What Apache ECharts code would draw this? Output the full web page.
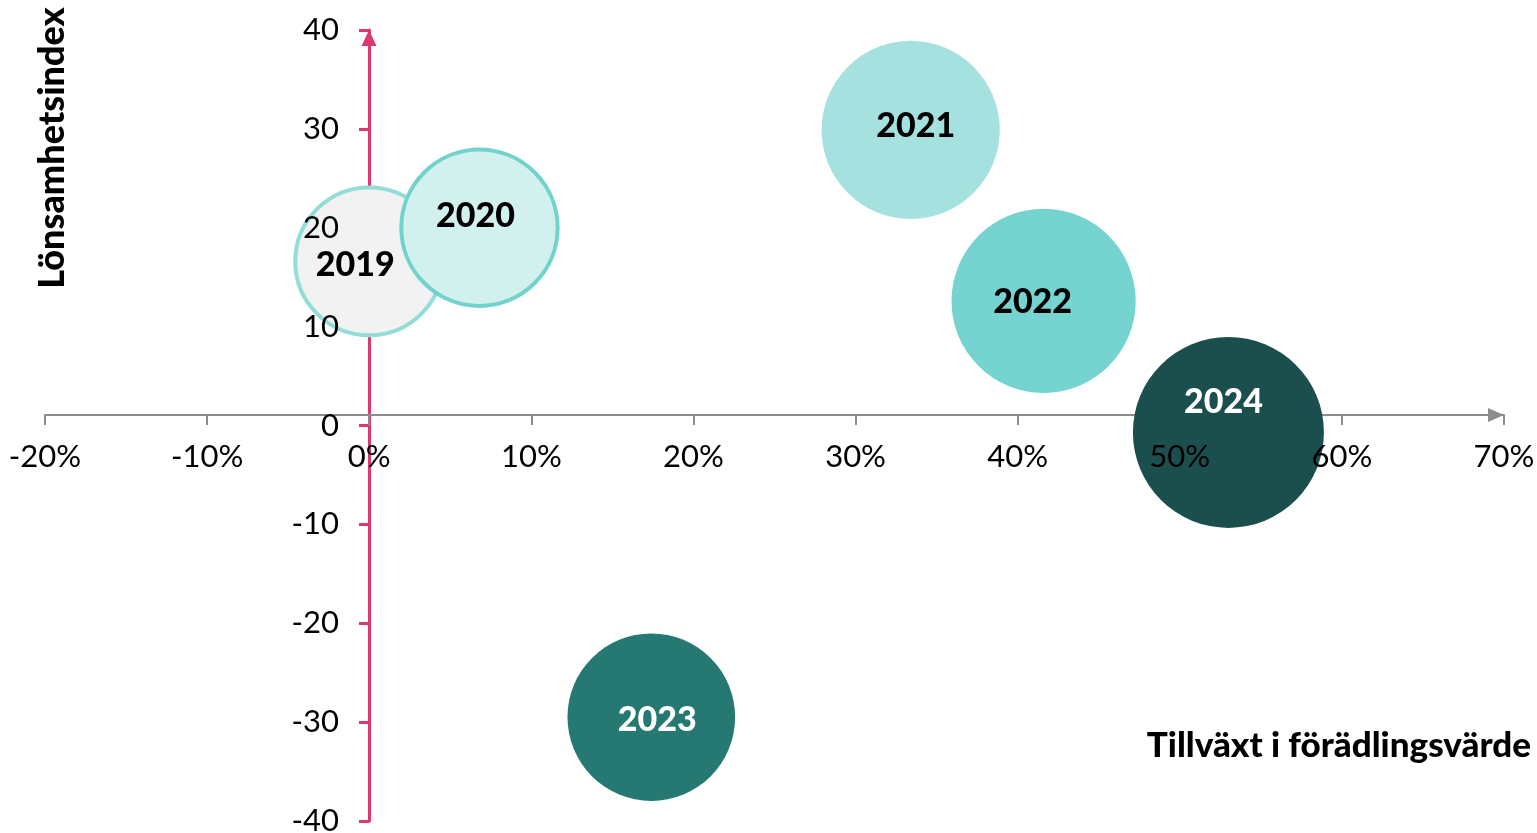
<!DOCTYPE html>
<html>
<head>
<meta charset="utf-8">
<script src="https://cdn.jsdelivr.net/npm/echarts@6/dist/echarts.min.js"></script>
<style>
html,body{margin:0;padding:0;background:#fff;}
#chart{width:1537px;height:833px;}
</style>
</head>
<body>
<div id="chart"></div>
<script>
// ---- data ----
const years = ['2019', '2020', '2021', '2022', '2023', '2024'];
const growth = [0, 6.8, 33.4, 41.6, 17.4, 53.0];          // Tillväxt i förädlingsvärde (%)
const profitability = [16.6, 20.0, 29.9, 12.6, -29.5, -0.7]; // Lönsamhetsindex
const bubbleSize = [60, 67, 87, 93, 77, 100];              // relative bubble size
const xTickRange = [-20, 70, 10];
const yTickRange = [-40, 40, 10];
const xTitle = 'Tillväxt i förädlingsvärde';
const yTitle = 'Lönsamhetsindex';

// ---- styles ----
const fills = ['#f2f2f2', '#d2f0ed', '#a5e2df', '#75d4cf', '#267873', '#1b4f4e'];
const borders = ['#93ddd8', '#72d3cc', null, null, null, null];
const labelColors = ['#000', '#000', '#000', '#000', '#fff', '#fff'];
const labelOffsets = [[-14, 4], [-4, -12], [5, -4], [-11, 1], [6, 3], [-5, -30]];
const FONT = 'Lato, "Open Sans", sans-serif';
const PINK = '#dc3a6f';
const GREY = '#8c8c8c';
const MAX_D = 191;

const data = years.map((y, i) => ({
  name: y,
  value: [growth[i], profitability[i], bubbleSize[i]],
  itemStyle: {
    color: fills[i],
    opacity: 1,
    borderColor: borders[i] || fills[i],
    borderWidth: borders[i] ? 4 : 0
  },
  label: { color: labelColors[i], offset: labelOffsets[i] }
}));

const chart = echarts.init(document.getElementById('chart'), null, { renderer: 'canvas' });

const xBase = {
  type: 'value', min: xTickRange[0], max: xTickRange[1], interval: xTickRange[2],
  position: 'bottom', offset: -406, splitLine: { show: false }
};
const yBase = {
  type: 'value', min: yTickRange[0], max: yTickRange[1], interval: yTickRange[2],
  position: 'left', splitLine: { show: false }
};

chart.setOption({
  animation: false,
  textStyle: { fontFamily: FONT },
  grid: { left: 45, right: 33, top: 30, bottom: 12, containLabel: false, outerBoundsMode: 'none' },
  xAxis: [
    Object.assign({}, xBase, {
      z: 0,
      axisLine: { show: true, onZero: false, symbol: ['none', 'triangle'], symbolSize: [14, 16], symbolOffset: [0, -8],
        lineStyle: { color: GREY, width: 2 } },
      axisTick: { show: true, inside: false, length: 10, lineStyle: { color: GREY, width: 2 } },
      axisLabel: { show: false }
    }),
    Object.assign({}, xBase, {
      z: 10,
      axisLine: { show: false, onZero: false }, axisTick: { show: false },
      axisLabel: { show: true, margin: 26, formatter: '{value}%', color: '#000', fontSize: 31, fontFamily: FONT, hideOverlap: false }
    })
  ],
  yAxis: [
    Object.assign({}, yBase, {
      z: 0, offset: -324,
      axisLine: { show: true, onZero: false, symbol: ['none', 'triangle'], symbolSize: [15, 16], symbolOffset: [0, -8],
        lineStyle: { color: PINK, width: 3 } },
      axisTick: { show: true, inside: false, length: 10, lineStyle: { color: PINK, width: 3 } },
      axisLabel: { show: false }
    }),
    Object.assign({}, yBase, {
      z: 10, offset: -324,
      axisLine: { show: false, onZero: false }, axisTick: { show: false },
      axisLabel: { show: true, margin: 30, color: '#000', fontSize: 31, fontFamily: FONT, hideOverlap: false }
    })
  ],
  series: [{
    type: 'scatter',
    xAxisIndex: 0, yAxisIndex: 0,
    z: 2,
    symbol: 'circle',
    symbolSize: v => MAX_D * Math.sqrt(v[2] / 100),
    data: data,
    label: {
      show: true, position: 'inside', formatter: '{b}',
      fontSize: 34, fontWeight: 900, fontFamily: FONT
    },
    emphasis: { disabled: true }
  }],
  graphic: [
    {
      type: 'text', x: 52, y: 148, rotation: Math.PI / 2,
      style: { text: yTitle, font: '900 36px ' + FONT, fill: '#000', textAlign: 'center', textVerticalAlign: 'middle' }
    },
    {
      type: 'text', x: 1531, y: 746,
      style: { text: xTitle, font: '900 35px ' + FONT, fill: '#000', textAlign: 'right', textVerticalAlign: 'middle' }
    }
  ]
});
</script>
</body>
</html>
